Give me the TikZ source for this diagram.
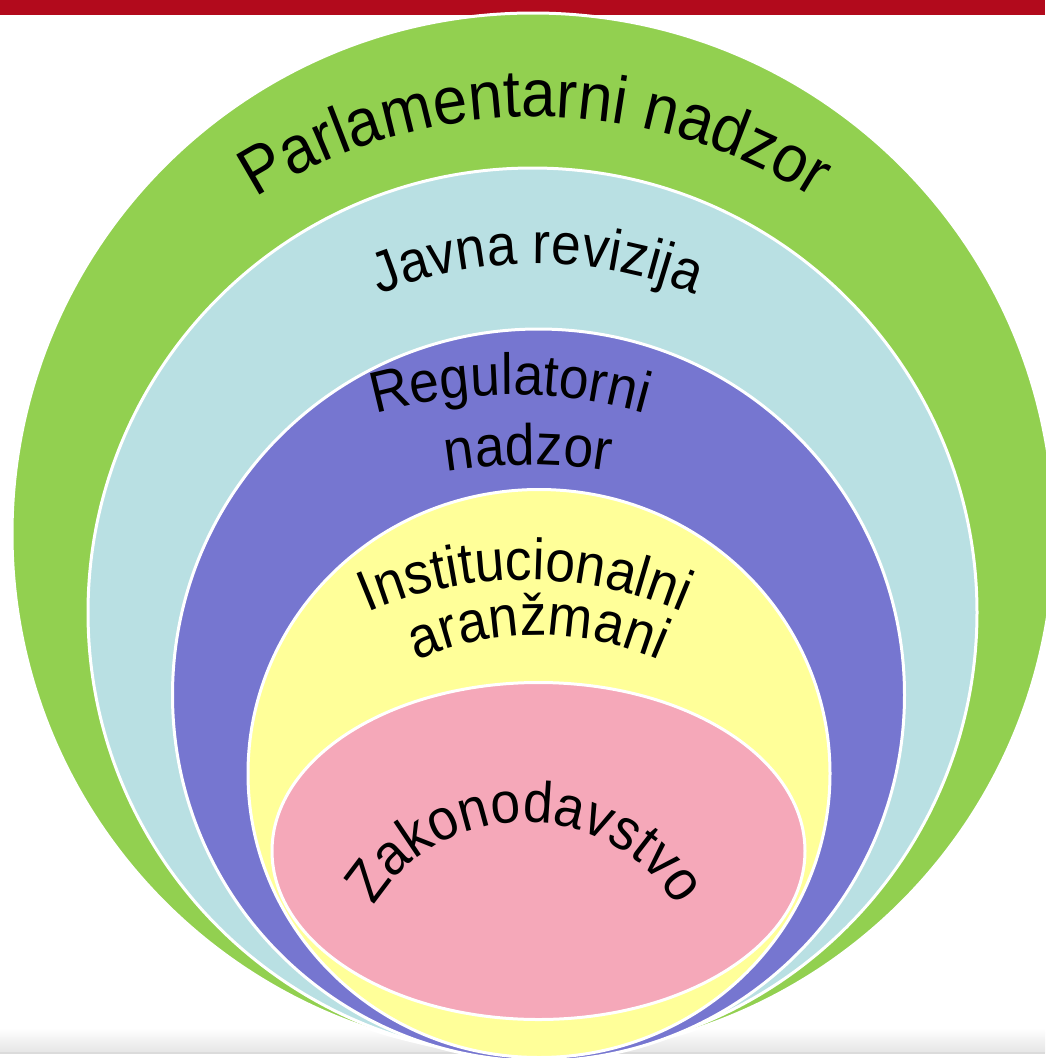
\documentclass[tikz,border=0pt]{standalone}
\usepackage{fontspec}
\setmainfont{Liberation Sans}
\newfontfamily\artfont[FakeStretch=0.92]{Liberation Sans}
\usetikzlibrary{decorations.text}
\definecolor{barred}{HTML}{B20A1C}
\definecolor{cgreen}{HTML}{92D050}
\definecolor{cblue}{HTML}{B9E0E3}
\definecolor{cpurple}{HTML}{7676D0}
\definecolor{cyellow}{HTML}{FFFF99}
\definecolor{cpink}{HTML}{F5A8B9}
\newcommand\pnbig{\artfont\fontsize{67}{67}\selectfont}
\newcommand\pnmid{\artfont\fontsize{58}{58}\selectfont}
\begin{document}
\begin{tikzpicture}[x=1pt,y=-1pt,
  ring/.style={draw=white,line width=3},
  arctext/.style={decorate,decoration={text along path,text align=center,text={#1}}}]
\useasboundingbox (0,0) rectangle (1045,1058);
\fill[white] (0,0) rectangle (1045,1058);
\fill[barred] (0,0) rectangle (1045,15);
\shade[top color=white,bottom color=gray!20] (0,1028) rectangle (1045,1052);
\fill[gray!28] (0,1052) rectangle (1045,1054);
% rings
\path[ring,fill=cgreen] (533,534) circle[radius=521];
\path[ring,fill=cblue] (532.5,612.5) circle[radius=444.5];
\path[ring,fill=cpurple] (538.5,695) circle[radius=366];
\path[ring,fill=cyellow] (539,773.5) ellipse[x radius=291,y radius=284];
\path[ring,fill=cpink] (538.5,851) ellipse[x radius=266.5,y radius=168.5];
% curved labels
\path[arctext={|\pnbig|Parlamentarni nadzor}] (535,637) ++(-150:520) arc[start angle=-150,end angle=-30,radius=520];
\path[arctext={|\pnmid|Javna revizija}] (537,691) ++(-160:427) arc[start angle=-160,end angle=-20,radius=427];
\path[arctext={|\pnmid|Regulatorni}] (510,895) ++(-150:500) arc[start angle=-150,end angle=-30,radius=500];
\path[arctext={|\pnmid|nadzor}] (528,965) ++(-150:500) arc[start angle=-150,end angle=-30,radius=500];
\path[arctext={|\pnmid|Institucionalni}] (525,980) ++(-165:400) arc[start angle=-165,end angle=-15,radius=400];
\path[arctext={|\pnmid|aranžmani}] (538,935) ++(-170:300) arc[start angle=-170,end angle=-10,radius=300];
\path[arctext={|\pnmid|Zakonodavstvo}] (525,1000) ++(-180:178) arc[start angle=-180,end angle=0,radius=178];
\end{tikzpicture}
\end{document}
